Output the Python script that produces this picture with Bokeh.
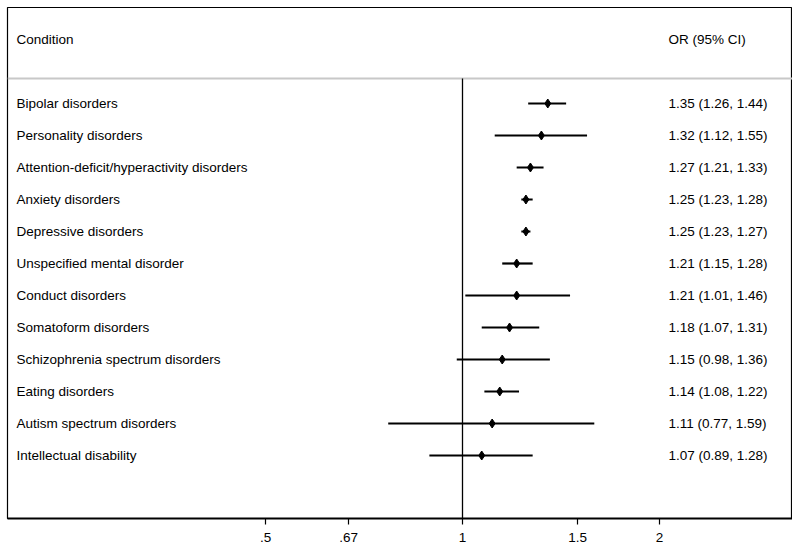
import math
from bokeh.plotting import figure
from bokeh.models import Range1d, FixedTicker, CustomJSTickFormatter, ColumnDataSource
from bokeh.core.properties import value
from bokeh.embed import file_html
from bokeh.resources import INLINE

conditions = [
    "Bipolar disorders",
    "Personality disorders",
    "Attention-deficit/hyperactivity disorders",
    "Anxiety disorders",
    "Depressive disorders",
    "Unspecified mental disorder",
    "Conduct disorders",
    "Somatoform disorders",
    "Schizophrenia spectrum disorders",
    "Eating disorders",
    "Autism spectrum disorders",
    "Intellectual disability",
]
or_vals = [1.35, 1.32, 1.27, 1.25, 1.25, 1.21, 1.21, 1.18, 1.15, 1.14, 1.11, 1.07]
ci_low = [1.26, 1.12, 1.21, 1.23, 1.23, 1.15, 1.01, 1.07, 0.98, 1.08, 0.77, 0.89]
ci_high = [1.44, 1.55, 1.33, 1.28, 1.27, 1.28, 1.46, 1.31, 1.36, 1.22, 1.59, 1.28]
tick_values = [0.5, 0.67, 1, 1.5, 2]
tick_labels = [".5", ".67", "1", "1.5", "2"]
header_left = "Condition"
header_right = "OR (95% CI)"

rows = list(range(1, len(conditions) + 1))
or_text = ["%.2f (%.2f, %.2f)" % (o, l, h) for o, l, h in zip(or_vals, ci_low, ci_high)]

FONT = value("Liberation Sans")
FS = "13.5px"

x_start = math.exp((7 - 462) / 284.2)
x_end = math.exp((792 - 462) / 284.2)
y_top = -2.0
y_bot = 13.96875
sep_y = 0.21875
right_col_x = 2.0

p = figure(width=792, height=546, x_axis_type="log", y_axis_location=None,
           x_range=Range1d(x_start, x_end), y_range=Range1d(y_bot, y_top),
           output_backend="svg", toolbar_location=None,
           min_border_left=7, min_border_right=0, min_border_top=7, min_border_bottom=28)
p.grid.visible = False
p.outline_line_color = "black"
p.outline_line_width = 1.2
p.background_fill_color = "white"
p.border_fill_color = "white"

ax = p.xaxis[0]
ax.ticker = FixedTicker(ticks=tick_values, minor_ticks=[])
mapping = ",".join('"%s":"%s"' % (repr(float(v)) if v != int(v) else str(int(v)), l)
                   for v, l in zip(tick_values, tick_labels))
ax.formatter = CustomJSTickFormatter(code="const m={%s}; const k=String(tick); return (k in m)? m[k] : k;" % mapping)
ax.axis_line_color = "black"
ax.axis_line_width = 1.8
ax.major_tick_line_color = "black"
ax.major_tick_line_width = 1.2
ax.major_tick_in = 0
ax.major_tick_out = 6
ax.minor_tick_line_color = None
ax.major_label_standoff = 8
ax.major_label_text_font = "Liberation Sans"
ax.major_label_text_font_size = FS
ax.major_label_text_color = "black"

# header separator
p.segment(x0=[x_start], x1=[x_end], y0=[sep_y], y1=[sep_y], line_color="#c8c8c8", line_width=1.8)
# null line at OR = 1
p.segment(x0=[1], x1=[1], y0=[sep_y], y1=[y_bot], line_color="black", line_width=1.3)

src = ColumnDataSource(dict(y=rows, cond=conditions, orv=or_vals, lo=ci_low, hi=ci_high, lab=or_text,
                            xl=[x_start] * len(rows), xr=[right_col_x] * len(rows)))
p.segment(x0="lo", x1="hi", y0="y", y1="y", source=src, line_color="black", line_width=2.2)
p.scatter(x="orv", y="y", source=src, marker="diamond", size=9, fill_color="black", line_color="black")

p.text(x="xl", y="y", text="cond", source=src, x_offset=9, text_baseline="middle", text_align="left",
       text_font=FONT, text_font_size=FS, text_color="black")
p.text(x="xr", y="y", text="lab", source=src, x_offset=9, text_baseline="middle", text_align="left",
       text_font=FONT, text_font_size=FS, text_color="black")
p.text(x=[x_start], y=[-1], text=[header_left], x_offset=9, text_baseline="middle", text_align="left",
       text_font=FONT, text_font_size=FS, text_color="black")
p.text(x=[right_col_x], y=[-1], text=[header_right], x_offset=9, text_baseline="middle", text_align="left",
       text_font=FONT, text_font_size=FS, text_color="black")

open("out.html", "w").write(file_html(p, INLINE))
